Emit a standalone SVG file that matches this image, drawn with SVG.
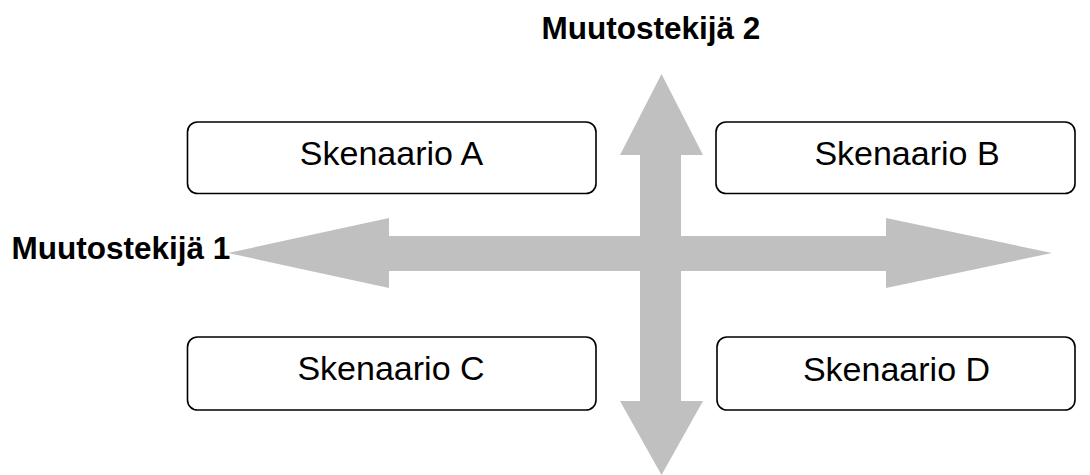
<svg xmlns="http://www.w3.org/2000/svg" width="1090" height="475" viewBox="0 0 1090 475">
  <style>
    .box { fill: #ffffff; stroke: #000000; stroke-width: 1.6; }
    .lbl { font-family: "Liberation Sans", Arial, sans-serif; font-size: 34px; fill: #000000; text-anchor: middle; }
    .axis { font-family: "Liberation Sans", Arial, sans-serif; font-size: 31.5px; font-weight: bold; fill: #000000; text-anchor: middle; }
    .arrow { fill: #c0c0c0; stroke: none; }
  </style>
  <rect width="1090" height="475" fill="#ffffff"/>
  <g id="connectors">
    <polygon class="arrow" points="228,253 389,218 389,236 886,236 886,218 1052,253 886,288 886,271 389,271 389,288"/>
    <polygon class="arrow" points="661.5,74 703,155 681,155 681,401 703,401 661.5,475 620,401 640,401 640,155 620,155"/>
  </g>
  <g id="scenarioA">
    <rect class="box" x="187.5" y="122" width="408.5" height="71.5" rx="10"/>
    <text class="lbl" x="391.5" y="165">Skenaario A</text>
  </g>
  <g id="scenarioB">
    <rect class="box" x="716" y="122" width="359" height="71.5" rx="10"/>
    <text class="lbl" x="907" y="165">Skenaario B</text>
  </g>
  <g id="scenarioC">
    <rect class="box" x="187.5" y="337" width="408.5" height="73" rx="10"/>
    <text class="lbl" x="391" y="380">Skenaario C</text>
  </g>
  <g id="scenarioD">
    <rect class="box" x="717" y="337" width="358" height="73" rx="10"/>
    <text class="lbl" x="896.5" y="381">Skenaario D</text>
  </g>
  <g id="factor2">
    <text class="axis" x="651" y="39">Muutostekijä 2</text>
  </g>
  <g id="factor1">
    <text class="axis" x="121" y="259">Muutostekijä 1</text>
  </g>
</svg>
